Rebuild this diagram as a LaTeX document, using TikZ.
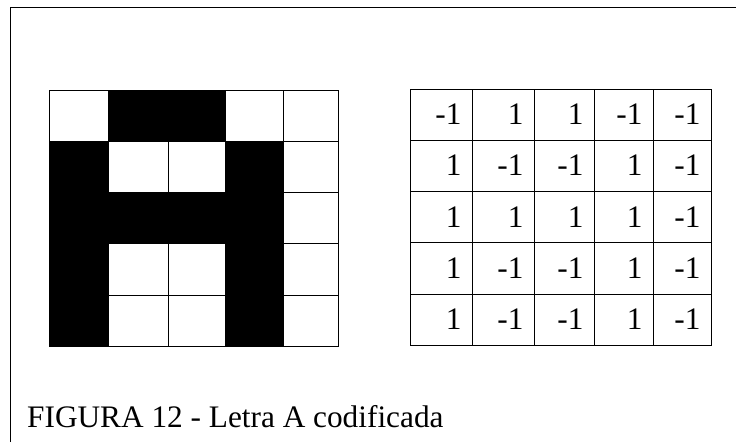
\documentclass[tikz,border=0pt]{standalone}
\usepackage{fontspec}
\setmainfont{Liberation Serif}
\begin{document}
\begin{tikzpicture}[x=1pt,y=-1pt,
  frameline/.style={line width=1pt},
  gridline/.style={line width=1pt},
  blackcell/.style={fill=black},
  num/.style={anchor=base east,inner sep=0pt,font=\fontsize{31.3}{36}\selectfont},
  captiontext/.style={anchor=base west,inner sep=0pt,font=\fontsize{31.3}{36}\selectfont}]
\useasboundingbox (0,0) rectangle (736,442);
% frame
\draw[frameline] (10.3,442) -- (10.3,7.3) -- (736,7.3);
% left grid
\foreach \xa/\xb in {49.3/108.7,108.7/168.3,168.3/225.3,225.3/283.3,283.3/338.3}
  \foreach \ya/\yb in {90.7/141,141/192.3,192.3/243.3,243.3/295.3,295.3/346}
    \draw[gridline] (\xa,\ya) rectangle (\xb,\yb);
% black cells
\foreach \xa/\xb/\ya/\yb in {
  108.7/225.3/90.7/141,
  49.3/108.7/141/346,
  225.3/283.3/141/346,
  108.7/225.3/192.3/243.3}
  \fill[blackcell] (\xa,\ya) rectangle (\xb,\yb);
% right grid
\foreach \xa/\xb in {410.3/472.3,472.3/534.3,534.3/594.3,594.3/653.3,653.3/711.3}
  \foreach \ya/\yb in {89.3/140,140/191.3,191.3/242.7,242.7/294,294/345}
    \draw[gridline] (\xa,\ya) rectangle (\xb,\yb);
% numbers
\foreach \yb [count=\r] /\vals in {140/{-1,1,1,-1,-1},191.3/{1,-1,-1,1,-1},242.7/{1,1,1,1,-1},294/{1,-1,-1,1,-1},345/{1,-1,-1,1,-1}}{
  \foreach \v [count=\c] in \vals {
    \pgfmathsetmacro{\xr}{{0,472.3,534.3,594.3,653.3,711.3}[\c]-10.6}
    \node[num] (n-\r-\c) at (\xr,\yb-15.7) {\v};
  }
}
\node[captiontext] (caption) at (27,427.3) {FIGURA 12 - Letra A codificada};
\end{tikzpicture}
\end{document}
